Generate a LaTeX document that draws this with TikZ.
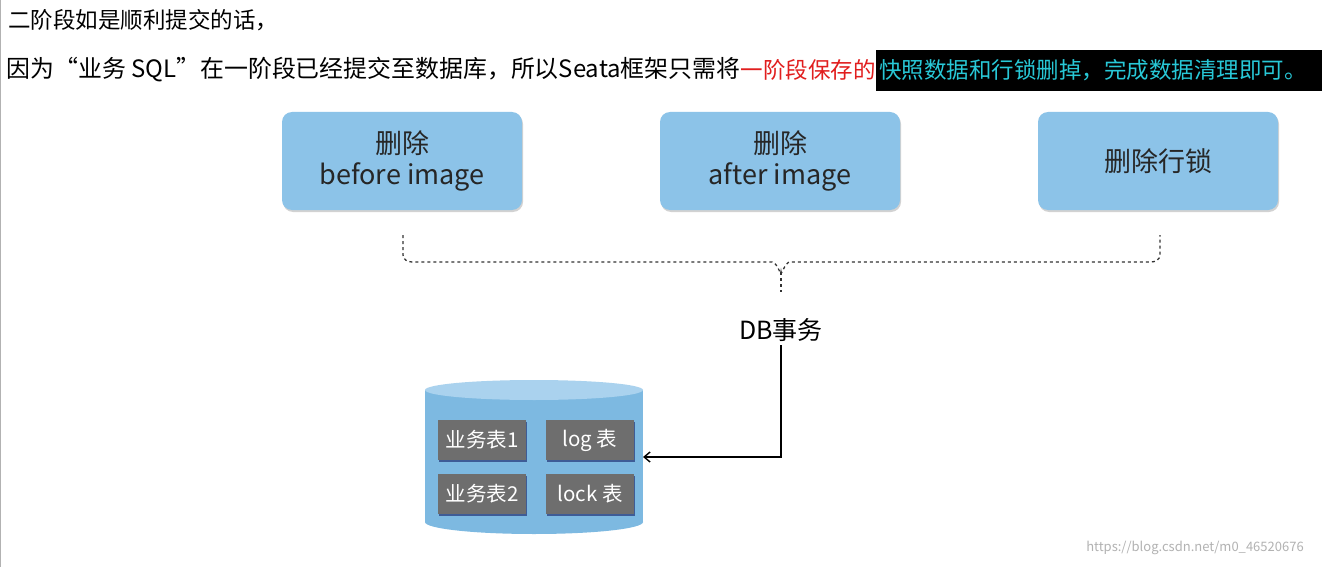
\documentclass[tikz,border=0pt]{standalone}
\usepackage{fontspec}
\setmainfont{Noto Sans CJK SC}
\usetikzlibrary{shadows,arrows.meta,shapes.geometric}
\definecolor{boxblue}{RGB}{140,195,232}
\definecolor{cylblue}{RGB}{125,185,225}
\definecolor{cyltop}{RGB}{170,210,238}
\definecolor{tblgray}{RGB}{110,110,110}
\definecolor{hlcyan}{RGB}{40,200,215}
\definecolor{redtxt}{RGB}{225,30,30}
\begin{document}
\begin{tikzpicture}[x=1pt,y=-1pt,
  opbox/.style={draw=none,fill=boxblue,rounded corners=10pt,minimum width=240pt,minimum height=98pt,align=center,font=\fontsize{27}{31}\selectfont,text=black!85,drop shadow={shadow xshift=1pt,shadow yshift=-2pt,opacity=0.35}},
  tbl/.style={fill=tblgray,minimum width=88pt,minimum height=40pt,text=white,font=\fontsize{20.5}{22}\selectfont,drop shadow={shadow xshift=1pt,shadow yshift=-2pt,fill=black!70!blue,opacity=0.5}},
  hdr/.style={font=\fontsize{22.5}{26}\selectfont,inner sep=0pt},
  bracel/.style={dashed,line width=1.3pt,black!80}]
\useasboundingbox (0,0) rectangle (1330,567);
\fill[white] (0,0) rectangle (1330,567);
\draw[black!30] (0.5,0) -- (0.5,567);
\node[hdr,anchor=west] (t1) at (8,20) {二阶段如是顺利提交的话，};
\fill[black] (876,50) rectangle (1322,91);
\node[hdr,anchor=east,text=redtxt] (t2b) at (876,70) {一阶段保存的};
\node[hdr,anchor=east,font=\fontsize{23.9}{26}\selectfont] (t2a) at (t2b.west) {因为“业务 SQL”在一阶段已经提交至数据库，所以Seata框架只需将};
\node[hdr,anchor=west,text=hlcyan] (t2c) at (879,70) {快照数据和行锁删掉，完成数据清理即可。};
\node[opbox] (b1) at (402,161) {删除\\before image};
\node[opbox] (b2) at (780,161) {删除\\after image};
\node[opbox] (b3) at (1158,161) {删除行锁};
\coordinate (bl) at (403,235);
\coordinate (br) at (1160,235);
\coordinate (bm) at (781,292);
\draw[bracel] (bl) -- (403,255) to[out=-90,in=180] (412,262) -- (772,262) to[out=0,in=-90] (781,272) to[out=-90,in=180] (790,262) -- (1151,262) to[out=0,in=-90] (1160,255) -- (br);
\draw[bracel] (781,272) -- (bm);
\node[font=\fontsize{25}{28}\selectfont] (db) at (781,330) {DB事务};
\fill[cylblue] (425,390) rectangle (643,522);
\fill[cylblue] (534,522) ellipse (109 and 12);
\fill[cyltop] (534,390) ellipse (109 and 10);
\coordinate (cylr) at (643,457);
\node[tbl] (t11) at (482,440) {业务表1};
\node[tbl] (t12) at (590,440) {log 表};
\node[tbl] (t21) at (482,494) {业务表2};
\node[tbl] (t22) at (590,494) {lock 表};
\draw[line width=1.4pt,-{Straight Barb[length=6pt,width=10pt]}] (db.south) |- (cylr);
\node[text=black!30,font=\fontsize{13}{14}\selectfont] (wm) at (1195,548) {https://blog.csdn.net/m0\_46520676};
\end{tikzpicture}
\end{document}
